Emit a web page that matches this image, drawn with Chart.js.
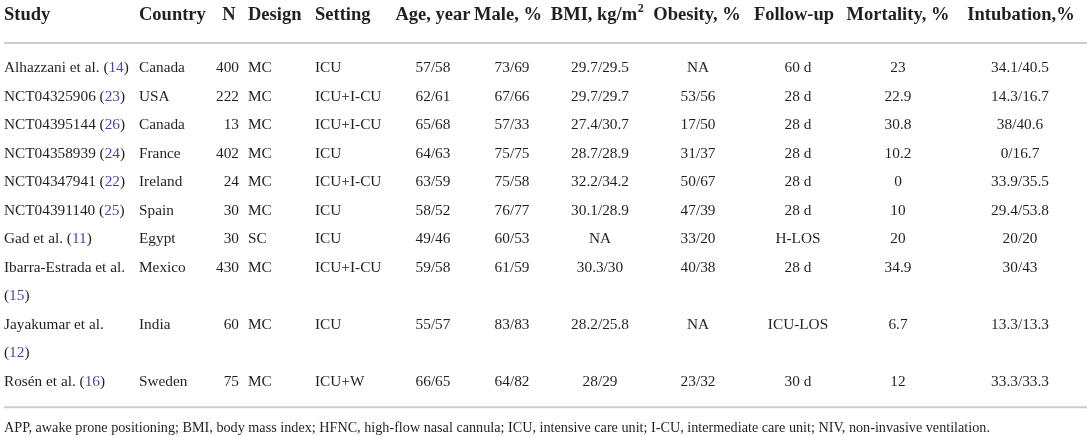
<!DOCTYPE html>
<html>
<head>
<meta charset="utf-8">
<script src="https://cdn.jsdelivr.net/npm/chart.js@4/dist/chart.umd.min.js"></script>
<style>
  html, body { margin: 0; padding: 0; background: #fff; }
  #tbl { display: block; }
</style>
</head>
<body>
<canvas id="tbl" width="1091" height="436"></canvas>
<script>
// table content
const headers = ['Study', 'Country', 'N', 'Design', 'Setting', 'Age, year', 'Male, %', 'BMI, kg/m', 'Obesity, %', 'Follow-up', 'Mortality, %', 'Intubation,%'];
const studies = ['Alhazzani et al.', 'NCT04325906', 'NCT04395144', 'NCT04358939', 'NCT04347941', 'NCT04391140', 'Gad et al.', 'Ibarra-Estrada et al.', 'Jayakumar et al.', 'Rosén et al.'];
const refs = ['14', '23', '26', '24', '22', '25', '11', '15', '12', '16'];
const countries = ['Canada', 'USA', 'Canada', 'France', 'Ireland', 'Spain', 'Egypt', 'Mexico', 'India', 'Sweden'];
const sampleSizes = [400, 222, 13, 402, 24, 30, 30, 430, 60, 75];
const designs = ['MC', 'MC', 'MC', 'MC', 'MC', 'MC', 'SC', 'MC', 'MC', 'MC'];
const settings = ['ICU', 'ICU+I-CU', 'ICU+I-CU', 'ICU', 'ICU+I-CU', 'ICU', 'ICU', 'ICU+I-CU', 'ICU', 'ICU+W'];
const ages = ['57/58', '62/61', '65/68', '64/63', '63/59', '58/52', '49/46', '59/58', '55/57', '66/65'];
const males = ['73/69', '67/66', '57/33', '75/75', '75/58', '76/77', '60/53', '61/59', '83/83', '64/82'];
const bmis = ['29.7/29.5', '29.7/29.7', '27.4/30.7', '28.7/28.9', '32.2/34.2', '30.1/28.9', 'NA', '30.3/30', '28.2/25.8', '28/29'];
const obesity = ['NA', '53/56', '17/50', '31/37', '50/67', '47/39', '33/20', '40/38', 'NA', '23/32'];
const followUps = ['60 d', '28 d', '28 d', '28 d', '28 d', '28 d', 'H-LOS', '28 d', 'ICU-LOS', '30 d'];
const mortality = ['23', '22.9', '30.8', '10.2', '0', '10', '20', '34.9', '6.7', '12'];
const intubation = ['34.1/40.5', '14.3/16.7', '38/40.6', '0/16.7', '33.9/35.5', '29.4/53.8', '20/20', '30/43', '13.3/13.3', '33.3/33.3'];
const footnote = 'APP, awake prone positioning; BMI, body mass index; HFNC, high-flow nasal cannula; ICU, intensive care unit; I-CU, intermediate care unit; NIV, non-invasive ventilation.';

// column anchors (x on the 0..1091 scale) and alignment
const colX = [4, 139, 239, 248, 315, 433, 512, 600, 698, 798, 898, 1020];
const colAlign = ['left', 'left', 'right', 'left', 'left', 'center', 'center', 'center', 'center', 'center', 'center', 'center'];
const headAlign = ['left', 'left', 'center', 'left', 'left', 'center', 'center', 'center', 'center', 'center', 'center', 'center'];
const headX = [4, 139, 229, 248, 315, 433, 508, 597, 697, 794, 898, 1021];

const SERIF = '"Liberation Serif", "DejaVu Serif", serif';
const bodyFont = '15.3px ' + SERIF;
const headFont = 'bold 18.5px ' + SERIF;
const noteFont = '14.2px ' + SERIF;
const textColor = '#231f20';
const refColor = '#4a47a3';
const ruleColor = '#cdcdcd';
const studyMax = 128;

const tablePlugin = {
    id: 'tableDraw',
    afterDraw(chart) {
        const ctx = chart.ctx;
        const xs = chart.scales.x;
        const ys = chart.scales.y;
        ctx.save();
        ctx.textBaseline = 'middle';

        // header
        ctx.font = headFont;
        ctx.fillStyle = textColor;
        const hy = ys.getPixelForValue(-1.86);
        headers.forEach((h, i) => {
            const x = xs.getPixelForValue(headX[i]);
            if (i === 7) {
                ctx.font = headFont;
                const w1 = ctx.measureText(h).width;
                ctx.font = 'bold 12px ' + SERIF;
                const w2 = ctx.measureText('2').width;
                const start = x - (w1 + w2) / 2;
                ctx.textAlign = 'left';
                ctx.font = headFont;
                ctx.fillText(h, start, hy);
                ctx.font = 'bold 12px ' + SERIF;
                ctx.fillText('2', start + w1 + 0.5, hy - 6);
                ctx.font = headFont;
                return;
            }
            ctx.textAlign = headAlign[i];
            ctx.fillText(h, x, hy);
        });

        // rules
        ctx.strokeStyle = ruleColor;
        ctx.lineWidth = 2;
        [-0.88, 11.9].forEach(v => {
            const y = ys.getPixelForValue(v);
            ctx.beginPath();
            ctx.moveTo(xs.getPixelForValue(4), y);
            ctx.lineTo(xs.getPixelForValue(1087), y);
            ctx.stroke();
        });

        // body rows
        ctx.font = bodyFont;
        let line = 0;
        studies.forEach((s, r) => {
            const y = ys.getPixelForValue(line);
            const refTxt = '(' + refs[r] + ')';
            const full = s + ' ' + refTxt;
            let lines = 1;
            ctx.textAlign = 'left';
            const sx = xs.getPixelForValue(colX[0]);
            const drawRef = (x0, yy) => {
                ctx.fillStyle = textColor;
                ctx.fillText('(', x0, yy);
                let w = ctx.measureText('(').width;
                ctx.fillStyle = refColor;
                ctx.fillText(refs[r], x0 + w, yy);
                w += ctx.measureText(refs[r]).width;
                ctx.fillStyle = textColor;
                ctx.fillText(')', x0 + w, yy);
            };
            ctx.fillStyle = textColor;
            if (ctx.measureText(full).width > studyMax) {
                ctx.fillText(s, sx, y);
                drawRef(sx, ys.getPixelForValue(line + 1));
                lines = 2;
            } else {
                ctx.fillText(s + ' ', sx, y);
                drawRef(sx + ctx.measureText(s + ' ').width, y);
            }
            const cells = [null, countries[r], String(sampleSizes[r]), designs[r], settings[r], ages[r], males[r], bmis[r], obesity[r], followUps[r], mortality[r], intubation[r]];
            ctx.fillStyle = textColor;
            for (let c = 1; c < cells.length; c++) {
                ctx.textAlign = colAlign[c];
                ctx.fillText(cells[c], xs.getPixelForValue(colX[c]), y);
            }
            line += lines;
        });

        // footnote
        ctx.font = noteFont;
        ctx.textAlign = 'left';
        ctx.fillStyle = textColor;
        ctx.fillText(footnote, xs.getPixelForValue(4), ys.getPixelForValue(12.63));
        ctx.restore();
    }
};

const rowPitch = 28.5;
const firstRowY = 68;
const H = 436;

new Chart(document.getElementById('tbl').getContext('2d'), {
    type: 'scatter',
    data: { datasets: [{ data: [], pointRadius: 0 }] },
    options: {
        responsive: false,
        animation: false,
        events: [],
        layout: { padding: 0 },
        plugins: { legend: { display: false }, tooltip: { enabled: false } },
        scales: {
            x: { type: 'linear', display: false, min: 0, max: 1091 },
            y: { type: 'linear', display: false, reverse: true,
                 min: -firstRowY / rowPitch, max: (H - firstRowY) / rowPitch }
        }
    },
    plugins: [tablePlugin]
});
</script>
</body>
</html>
